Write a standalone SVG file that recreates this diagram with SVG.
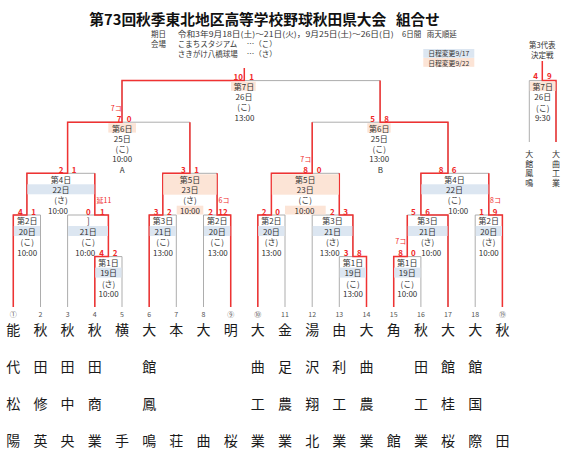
<svg xmlns="http://www.w3.org/2000/svg" width="570" height="456" viewBox="0 0 570 456">
<style>
text{font-family:"Noto Sans CJK JP","Noto Sans",sans-serif;dominant-baseline:central}
.g{stroke:#adadad;stroke-width:1;fill:none}
.r{stroke:#f03232;stroke-width:1.5;fill:none}
.t{font-size:8px;fill:#333;text-anchor:middle}
.s{font-size:8px;fill:#f02828;font-weight:bold;text-anchor:middle}
.k{font-size:7px;fill:#f02828;text-anchor:middle}
.bl{fill:#dce6f1}
.be{fill:#fce4d6}
.nm{font-size:14px;fill:#1a1a1a;text-anchor:middle}
.no{font-size:7px;fill:#555;text-anchor:middle}
.h{font-size:7.5px;fill:#333}
</style>
<rect width="570" height="456" fill="#fff"/>
<g id="header">
<text x="89.3" y="18.3" font-size="14.6" font-weight="bold" fill="#111" textLength="297" lengthAdjust="spacingAndGlyphs">第73回秋季東北地区高等学校野球秋田県大会</text>
<text x="396" y="18.3" font-size="14.6" font-weight="bold" fill="#111">組合せ</text>
<text class="h" x="151" y="33.3">期日</text>
<text class="h" x="151" y="43.7">会場</text>
<text class="h" x="177.7" y="33.3" textLength="216" lengthAdjust="spacingAndGlyphs">令和3年9月18日(土)～21日(火)，9月25日(土)～26日(日)</text>
<text class="h" x="402" y="33.3">6日間</text>
<text class="h" x="426.7" y="33.3">雨天順延</text>
<text class="h" x="177.7" y="43.7">こまちスタジアム</text>
<text class="h" x="246.7" y="43.7">…（こ）</text>
<text class="h" x="177.7" y="53.3">さきがけ八橋球場</text>
<text class="h" x="246.7" y="53.3">…（さ）</text>
<rect class="bl" x="423.3" y="49" width="51" height="8.8"/>
<text x="448.8" y="53.4" font-size="6.8" fill="#333" text-anchor="middle">日程変更9/17</text>
<rect class="be" x="423.3" y="58" width="51" height="8.8"/>
<text x="448.8" y="62.6" font-size="6.8" fill="#333" text-anchor="middle">日程変更9/22</text>
<text class="h" x="542.3" y="44" text-anchor="middle">第3代表</text>
<text class="h" x="542.3" y="54.3" text-anchor="middle">決定戦</text>
</g>
<g id="connectors">
<path class="g" d="M13.3,307V215H40.5V307"/>
<path class="g" d="M94.8,307V256.6H122V307"/>
<path class="g" d="M67.6,307V215H108.4V256.6"/>
<path class="g" d="M149.2,307V215H176.3V307"/>
<path class="g" d="M203.5,307V215H230.7V307"/>
<path class="g" d="M26.9,215V173.3H94.8V215"/>
<path class="g" d="M162.8,215V173.3H217.1V215"/>
<path class="g" d="M67.6,173.3V122.2H189.9V173.3"/>
<path class="g" d="M122,122.2V80.6H380.1V122.2"/>
<path class="g" d="M257.8,307V215H285V307"/>
<path class="g" d="M339.3,307V256.6H366.5V307"/>
<path class="g" d="M312.2,307V215H352.9V256.6"/>
<path class="g" d="M271.4,215V173.3H339.3V215"/>
<path class="g" d="M393.7,307V256.6H420.9V307"/>
<path class="g" d="M407.3,256.6V215H448V307"/>
<path class="g" d="M475.2,307V215H502.4V307"/>
<path class="g" d="M420.9,215V173.3H488.8V215"/>
<path class="g" d="M312.2,173.3V122.2H448V173.3"/>
<path class="g" d="M529.3,142V80.6H556V142"/>
<path class="r" d="M13.3,307V215H26.9V173.3H67.6V122.2H122V80.6H244.3V68"/>
<path class="r" d="M94.8,307V256.6H108.4V215H94.8V173.3"/>
<path class="r" d="M149.2,307V215H162.8V173.3H189.9V122.2"/>
<path class="r" d="M230.7,307V215H217.1V173.3"/>
<path class="r" d="M257.8,307V215H271.4V173.3H312.2V122.2"/>
<path class="r" d="M366.5,307V256.6H352.9V215H339.3V173.3"/>
<path class="r" d="M393.7,307V256.6H407.3V215"/>
<path class="r" d="M448,307V215H420.9V173.3H448V122.2H380.1V80.6"/>
<path class="r" d="M502.4,307V215H488.8V173.3"/>
<path class="r" d="M556,142V80.6H542.3V61"/>
</g>
<g id="m12">
<rect class="bl" x="13.8" y="226" width="26.2" height="10"/>
<text class="s" x="20.3" y="211">4</text><text class="s" x="33.7" y="211">1</text>
<text class="t" x="27.2" y="220.8">第2日</text><text class="t" x="27.2" y="231.2">20日</text><text class="t" x="27.2" y="241.5">(こ)</text><text class="t" x="27.2" y="252">10:00</text>
</g>
<g id="m45">
<rect class="bl" x="95.3" y="267.6" width="26.2" height="10"/>
<text class="s" x="101.7" y="252.6">4</text><text class="s" x="115" y="252.6">2</text>
<text class="t" x="108.6" y="262.4">第1日</text><text class="t" x="108.6" y="272.8">19日</text><text class="t" x="108.6" y="283.1">(さ)</text><text class="t" x="108.6" y="293.4">10:00</text>
</g>
<g id="m3">
<rect class="bl" x="68.1" y="226" width="39.8" height="10"/>
<text class="s" x="88.3" y="211">0</text><text class="s" x="102.3" y="211">1</text>
<text class="k" x="104" y="200">延11</text>
<text class="t" x="88.3" y="220.8">]</text><text class="t" x="88.3" y="231.2">21日</text><text class="t" x="88.3" y="241.5">(こ)</text><text class="t" x="85.3" y="252">10:00</text>
</g>
<g id="m67">
<rect class="bl" x="149.7" y="226" width="26.1" height="10"/>
<text class="s" x="156" y="211">3</text><text class="s" x="169.3" y="211">2</text>
<text class="t" x="163" y="220.8">第3日</text><text class="t" x="163" y="231.2">21日</text><text class="t" x="163" y="241.5">(こ)</text><text class="t" x="163" y="252">13:00</text>
</g>
<g id="m89">
<rect class="bl" x="204" y="226" width="26.2" height="10"/>
<text class="s" x="210.7" y="211">2</text><text class="s" x="222.9" y="211">12</text>
<text class="k" x="224" y="200">6コ</text>
<text class="t" x="217.3" y="220.8">第2日</text><text class="t" x="217.3" y="231.2">20日</text><text class="t" x="217.3" y="241.5">(こ)</text><text class="t" x="217.8" y="252">13:00</text>
</g>
<g id="m4l">
<rect class="bl" x="27.4" y="184.3" width="66.9" height="10"/>
<text class="s" x="61" y="169.3">2</text><text class="s" x="74" y="169.3">1</text>
<text class="t" x="61" y="179.1">第4日</text><text class="t" x="61" y="189.5">22日</text><text class="t" x="61" y="199.8">(さ)</text><text class="t" x="58" y="210.6">10:00</text>
</g>
<g id="m5l">
<rect class="be" x="163.3" y="174.3" width="53.3" height="20.4"/>
<rect class="be" x="176.7" y="205.7" width="26.6" height="8.8"/>
<text class="s" x="183.3" y="169.3">3</text><text class="s" x="196.7" y="169.3">1</text>
<text class="t" x="190" y="179.1">第5日</text><text class="t" x="190" y="189.5">23日</text><text class="t" x="190" y="199.8">(さ)</text><text class="t" x="190" y="210.3">10:00</text>
</g>
<g id="m6a">
<rect class="be" x="108.3" y="123.2" width="27.7" height="9.4"/>
<text class="s" x="119" y="118.2">7</text><text class="s" x="129" y="118.2">0</text>
<text class="k" x="116.3" y="107.7">7コ</text>
<text class="t" x="122.2" y="128">第6日</text><text class="t" x="122.2" y="138.3">25日</text><text class="t" x="122.2" y="148.5">(こ)</text><text class="t" x="122.2" y="158.6">10:00</text><text class="t" x="122.2" y="169.4" font-size="7.5">A</text>
</g>
<g id="m7">
<rect class="be" x="231" y="81.6" width="24.7" height="9.2"/>
<text class="s" x="238.3" y="76.6">10</text><text class="s" x="251.7" y="76.6">1</text>
<text class="t" x="244" y="86.3">第7日</text><text class="t" x="244" y="96.7">26日</text><text class="t" x="244" y="106.9">(こ)</text><text class="t" x="244.5" y="117.3">13:00</text>
</g>
<g id="m1011">
<rect class="bl" x="258.3" y="226" width="26.2" height="10"/>
<text class="s" x="264" y="211">2</text><text class="s" x="277.7" y="211">0</text>
<text class="t" x="271.4" y="220.8">第2日</text><text class="t" x="271.4" y="231.2">20日</text><text class="t" x="271.4" y="241.5">(さ)</text><text class="t" x="271.4" y="252">13:00</text>
</g>
<g id="m1314">
<rect class="bl" x="339.8" y="267.6" width="26.2" height="10"/>
<text class="s" x="346" y="252.6">3</text><text class="s" x="359.3" y="252.6">8</text>
<text class="t" x="353" y="262.4">第1日</text><text class="t" x="353" y="272.8">19日</text><text class="t" x="353" y="283.1">(こ)</text><text class="t" x="353" y="293.4">13:00</text>
</g>
<g id="m12b">
<rect class="bl" x="312.7" y="226" width="39.7" height="10"/>
<text class="s" x="332.3" y="211">2</text><text class="s" x="345.7" y="211">3</text>
<text class="t" x="332.6" y="220.8">第3日</text><text class="t" x="332.6" y="231.2">21日</text><text class="t" x="332.6" y="241.5">(さ)</text><text class="t" x="329.7" y="252">13:00</text>
</g>
<g id="m5r">
<rect class="be" x="271.9" y="174.3" width="66.9" height="20.4"/>
<rect class="be" x="285" y="205.7" width="40.7" height="8.8"/>
<text class="s" x="305.7" y="169.3">8</text><text class="s" x="319" y="169.3">0</text>
<text class="k" x="305.8" y="159.3">7コ</text>
<text class="t" x="305.3" y="179.1">第5日</text><text class="t" x="305.3" y="189.5">23日</text><text class="t" x="305.3" y="199.8">(こ)</text><text class="t" x="304.5" y="210.3">10:00</text>
</g>
<g id="m1516">
<rect class="bl" x="394.2" y="267.6" width="26.2" height="10"/>
<text class="s" x="400.7" y="252.6">8</text><text class="s" x="413.3" y="252.6">0</text>
<text class="k" x="400.7" y="241">7コ</text>
<text class="t" x="407.3" y="262.4">第1日</text><text class="t" x="407.3" y="272.8">19日</text><text class="t" x="407.3" y="283.1">(こ)</text><text class="t" x="407.3" y="293.4">10:00</text>
</g>
<g id="m17">
<rect class="bl" x="407.8" y="226" width="39.7" height="10"/>
<text class="s" x="413.3" y="211">5</text><text class="s" x="427.7" y="211">6</text>
<text class="t" x="427.6" y="220.8">第3日</text><text class="t" x="427.6" y="231.2">21日</text><text class="t" x="427.6" y="241.5">(さ)</text><text class="t" x="431.3" y="252">10:00</text>
</g>
<g id="m1819">
<rect class="bl" x="475.7" y="226" width="26.2" height="10"/>
<text class="s" x="481.7" y="211">1</text><text class="s" x="495" y="211">9</text>
<text class="k" x="495.5" y="200">8コ</text>
<text class="t" x="488.8" y="220.8">第2日</text><text class="t" x="488.8" y="231.2">20日</text><text class="t" x="488.8" y="241.5">(さ)</text><text class="t" x="488.8" y="252">10:00</text>
</g>
<g id="m4r">
<rect class="bl" x="421.4" y="184.3" width="66.9" height="10"/>
<text class="s" x="441" y="169.3">8</text><text class="s" x="454" y="169.3">6</text>
<text class="t" x="454.5" y="179.1">第4日</text><text class="t" x="454.5" y="189.5">22日</text><text class="t" x="454.5" y="199.8">(こ)</text><text class="t" x="458.3" y="210.6">10:00</text>
</g>
<g id="m6b">
<rect class="be" x="367.3" y="123.2" width="23.4" height="9.4"/>
<text class="s" x="372.7" y="118.2">5</text><text class="s" x="386.7" y="118.2">8</text>
<text class="t" x="379.2" y="128">第6日</text><text class="t" x="379.2" y="138.3">25日</text><text class="t" x="379.2" y="148.5">(こ)</text><text class="t" x="379.2" y="158.6">13:00</text><text class="t" x="380.5" y="169.4" font-size="7.5">B</text>
</g>
<g id="m3rd">
<rect class="be" x="529.8" y="81.6" width="25.7" height="9.4"/>
<text class="s" x="535.7" y="75.5">4</text><text class="s" x="549.3" y="75.5">9</text>
<text class="t" x="542.7" y="86.6">第7日</text><text class="t" x="542.7" y="96.8">26日</text><text class="t" x="542.7" y="107.2">(こ)</text><text class="t" x="542.7" y="117.6">9:30</text>
<text class="t" x="529.3" font-size="9"><tspan x="529.3" y="153.3">大</tspan><tspan x="529.3" y="162.8">館</tspan><tspan x="529.3" y="172.3">鳳</tspan><tspan x="529.3" y="181.8">鳴</tspan></text>
<text class="t" x="556" font-size="9"><tspan x="556" y="153.3">大</tspan><tspan x="556" y="162.8">曲</tspan><tspan x="556" y="172.3">工</tspan><tspan x="556" y="181.8">業</tspan></text>
</g>
<g id="t1"><text class="no" x="13.3" y="314">①</text><text class="nm"><tspan x="13.3" y="329">能</tspan><tspan x="13.3" y="366">代</tspan><tspan x="13.3" y="403">松</tspan><tspan x="13.3" y="439.5">陽</tspan></text></g>
<g id="t2"><text class="no" x="40.5" y="314">2</text><text class="nm"><tspan x="40.5" y="329">秋</tspan><tspan x="40.5" y="366">田</tspan><tspan x="40.5" y="403">修</tspan><tspan x="40.5" y="439.5">英</tspan></text></g>
<g id="t3"><text class="no" x="67.6" y="314">3</text><text class="nm"><tspan x="67.6" y="329">秋</tspan><tspan x="67.6" y="366">田</tspan><tspan x="67.6" y="403">中</tspan><tspan x="67.6" y="439.5">央</tspan></text></g>
<g id="t4"><text class="no" x="94.8" y="314">4</text><text class="nm"><tspan x="94.8" y="329">秋</tspan><tspan x="94.8" y="366">田</tspan><tspan x="94.8" y="403">商</tspan><tspan x="94.8" y="439.5">業</tspan></text></g>
<g id="t5"><text class="no" x="122" y="314">5</text><text class="nm"><tspan x="122" y="329">横</tspan><tspan x="122" y="439.5">手</tspan></text></g>
<g id="t6"><text class="no" x="149.2" y="314">6</text><text class="nm"><tspan x="149.2" y="329">大</tspan><tspan x="149.2" y="366">館</tspan><tspan x="149.2" y="403">鳳</tspan><tspan x="149.2" y="439.5">鳴</tspan></text></g>
<g id="t7"><text class="no" x="176.3" y="314">7</text><text class="nm"><tspan x="176.3" y="329">本</tspan><tspan x="176.3" y="439.5">荘</tspan></text></g>
<g id="t8"><text class="no" x="203.5" y="314">8</text><text class="nm"><tspan x="203.5" y="329">大</tspan><tspan x="203.5" y="439.5">曲</tspan></text></g>
<g id="t9"><text class="no" x="230.7" y="314">⑨</text><text class="nm"><tspan x="230.7" y="329">明</tspan><tspan x="230.7" y="439.5">桜</tspan></text></g>
<g id="t10"><text class="no" x="257.8" y="314">⑩</text><text class="nm"><tspan x="257.8" y="329">大</tspan><tspan x="257.8" y="366">曲</tspan><tspan x="257.8" y="403">工</tspan><tspan x="257.8" y="439.5">業</tspan></text></g>
<g id="t11"><text class="no" x="285" y="314">11</text><text class="nm"><tspan x="285" y="329">金</tspan><tspan x="285" y="366">足</tspan><tspan x="285" y="403">農</tspan><tspan x="285" y="439.5">業</tspan></text></g>
<g id="t12"><text class="no" x="312.2" y="314">12</text><text class="nm"><tspan x="312.2" y="329">湯</tspan><tspan x="312.2" y="366">沢</tspan><tspan x="312.2" y="403">翔</tspan><tspan x="312.2" y="439.5">北</tspan></text></g>
<g id="t13"><text class="no" x="339.3" y="314">13</text><text class="nm"><tspan x="339.3" y="329">由</tspan><tspan x="339.3" y="366">利</tspan><tspan x="339.3" y="403">工</tspan><tspan x="339.3" y="439.5">業</tspan></text></g>
<g id="t14"><text class="no" x="366.5" y="314">14</text><text class="nm"><tspan x="366.5" y="329">大</tspan><tspan x="366.5" y="366">曲</tspan><tspan x="366.5" y="403">農</tspan><tspan x="366.5" y="439.5">業</tspan></text></g>
<g id="t15"><text class="no" x="393.7" y="314">15</text><text class="nm"><tspan x="393.7" y="329">角</tspan><tspan x="393.7" y="439.5">館</tspan></text></g>
<g id="t16"><text class="no" x="420.9" y="314">16</text><text class="nm"><tspan x="420.9" y="329">秋</tspan><tspan x="420.9" y="366">田</tspan><tspan x="420.9" y="403">工</tspan><tspan x="420.9" y="439.5">業</tspan></text></g>
<g id="t17"><text class="no" x="448" y="314">17</text><text class="nm"><tspan x="448" y="329">大</tspan><tspan x="448" y="366">館</tspan><tspan x="448" y="403">桂</tspan><tspan x="448" y="439.5">桜</tspan></text></g>
<g id="t18"><text class="no" x="475.2" y="314">18</text><text class="nm"><tspan x="475.2" y="329">大</tspan><tspan x="475.2" y="366">館</tspan><tspan x="475.2" y="403">国</tspan><tspan x="475.2" y="439.5">際</tspan></text></g>
<g id="t19"><text class="no" x="502.4" y="314">⑲</text><text class="nm"><tspan x="502.4" y="329">秋</tspan><tspan x="502.4" y="439.5">田</tspan></text></g>
</svg>
